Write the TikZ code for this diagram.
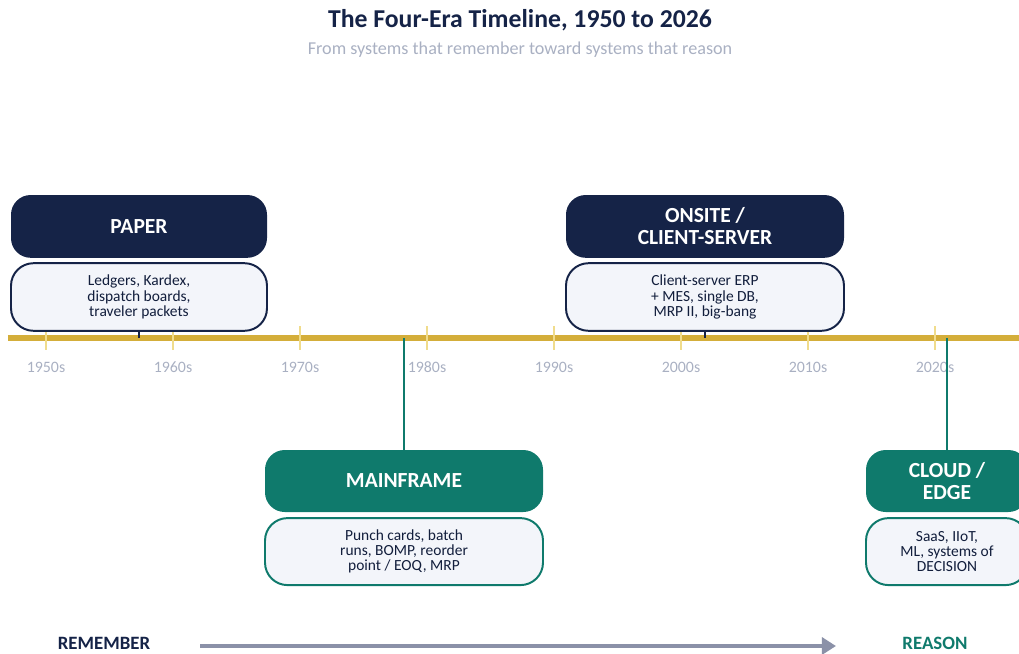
\documentclass[tikz,border=0pt]{standalone}
\usepackage{fontspec}
\setmainfont{Carlito}
\usepackage{tikz}
\usetikzlibrary{arrows.meta}

\definecolor{navy}{HTML}{152347}
\definecolor{teal}{HTML}{0F7A6C}
\definecolor{gold}{HTML}{D4AE3A}
\definecolor{goldlight}{HTML}{F0DC8C}
\definecolor{yeargray}{HTML}{A9B0C2}
\definecolor{descfill}{HTML}{F3F5FA}
\definecolor{arrowgray}{HTML}{8B91A8}

\tikzset{
  erahead/.style={rounded corners=14pt, minimum height=1.57cm, text=white,
    font=\fontsize{15.3}{15.6}\selectfont\bfseries, align=center, inner sep=0pt},
  eradesc/.style={rounded corners=16pt, fill=descfill, line width=1.4pt,
    minimum height=1.69cm, font=\fontsize{11}{10.8}\selectfont,
    text=navy!85!black, align=center, inner sep=0pt},
  yearlbl/.style={text=yeargray, font=\fontsize{11.3}{13}\selectfont},
}

\begin{document}
\begin{tikzpicture}[scale=1]
\useasboundingbox (0,0) rectangle (25.475,-16.325);

% title
\node[text=navy, font=\fontsize{18.3}{20}\selectfont\bfseries] (title) at (13,-0.5) {The Four-Era Timeline, 1950 to 2026};
\node[text=yeargray, font=\fontsize{12.9}{14}\selectfont] (subtitle) at (13,-1.25) {From systems that remember toward systems that reason};

% the axis
\coordinate (axisL) at (0.2,-8.45);
\coordinate (axisR) at (25.6,-8.45);
\draw[gold, line width=3.6pt] (axisL) -- (axisR);
\foreach \i/\yr in {0/1950s,1/1960s,2/1970s,3/1980s,4/1990s,5/2000s,6/2010s,7/2020s} {
  \draw[goldlight, line width=2pt] (1.15+3.175*\i,-8.15) -- (1.15+3.175*\i,-8.75);
  \node[yearlbl] (yr\i) at (1.15+3.175*\i,-9.175) {\yr};
}

% eras above the line
\node[erahead, fill=navy, minimum width=6.4cm] (paper) at (3.475,-5.66) {PAPER};
\node[eradesc, draw=navy, minimum width=6.4cm] (paperdesc) at (3.475,-7.425) {Ledgers, Kardex,\\dispatch boards,\\traveler packets};
\node[erahead, fill=navy, minimum width=6.95cm] (onsite) at (17.625,-5.66) {ONSITE /\\CLIENT-SERVER};
\node[eradesc, draw=navy, minimum width=6.95cm] (onsitedesc) at (17.625,-7.425) {Client-server ERP\\+ MES, single DB,\\MRP II, big-bang};
\draw[navy, line width=1.4pt] (paperdesc.south) -- (paperdesc.south |- axisL);
\draw[navy, line width=1.4pt] (onsitedesc.south) -- (onsitedesc.south |- axisL);

% eras below the line
\node[erahead, fill=teal, minimum width=6.95cm, minimum height=1.55cm] (mainframe) at (10.1,-12.025) {MAINFRAME};
\node[eradesc, draw=teal, minimum width=6.95cm, minimum height=1.675cm] (mainframedesc) at (10.1,-13.79) {Punch cards, batch\\runs, BOMP, reorder\\point / EOQ, MRP};
\node[erahead, fill=teal, minimum width=4.05cm, minimum height=1.55cm] (cloud) at (23.675,-12.025) {CLOUD /\\EDGE};
\node[eradesc, draw=teal, minimum width=4.05cm, minimum height=1.675cm] (clouddesc) at (23.675,-13.79) {SaaS, IIoT,\\ML, systems of\\DECISION};
\draw[teal, line width=1.4pt] (mainframe.north) -- (mainframe.north |- axisL);
\draw[teal, line width=1.4pt] (cloud.north) -- (cloud.north |- axisL);

% remember -> reason
\node[text=navy, font=\fontsize{13.4}{15}\selectfont\bfseries] (remember) at (2.6,-16.075) {REMEMBER};
\node[text=teal, font=\fontsize{13.4}{15}\selectfont\bfseries] (reason) at (23.375,-16.075) {REASON};
\draw[arrowgray, line width=2.6pt, -{Triangle[length=10pt,width=12pt]}] (5,-16.15) -- (20.9,-16.15);
\end{tikzpicture}
\end{document}
